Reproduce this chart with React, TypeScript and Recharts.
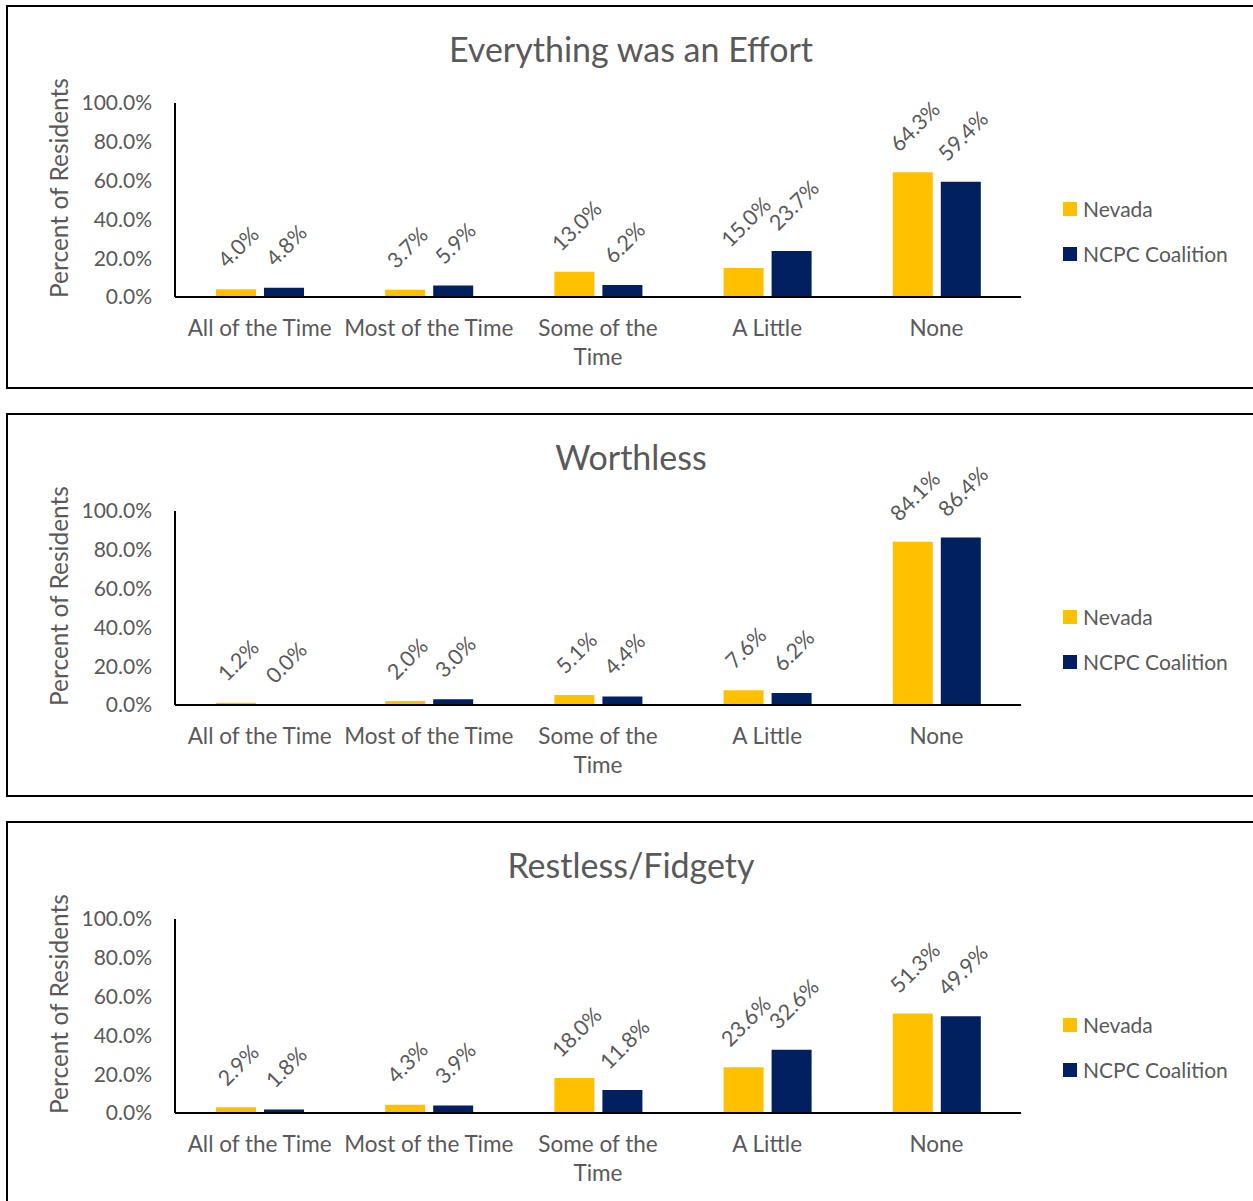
import React from 'react';
import { BarChart, Bar, XAxis, YAxis, Legend, LabelList } from 'recharts';

const categories = ['All of the Time', 'Most of the Time', 'Some of the\nTime', 'A Little', 'None'];
const seriesNames = ['Nevada', 'NCPC Coalition'];
const seriesColors = ['#FFC000', '#002060'];
const yTicks = [0, 20, 40, 60, 80, 100];

const titles = ['Everything was an Effort', 'Worthless', 'Restless/Fidgety'];
const effortNevada = [4.0, 3.7, 13.0, 15.0, 64.3];
const effortNcpc = [4.8, 5.9, 6.2, 23.7, 59.4];
const worthlessNevada = [1.2, 2.0, 5.1, 7.6, 84.1];
const worthlessNcpc = [0.0, 3.0, 4.4, 6.2, 86.4];
const restlessNevada = [2.9, 4.3, 18.0, 23.6, 51.3];
const restlessNcpc = [1.8, 3.9, 11.8, 32.6, 49.9];

const panels = [
  { title: titles[0], nevada: effortNevada, ncpc: effortNcpc },
  { title: titles[1], nevada: worthlessNevada, ncpc: worthlessNcpc },
  { title: titles[2], nevada: restlessNevada, ncpc: restlessNcpc },
];

const FONT = 'Lato, "Open Sans", sans-serif';
const TEXT = '#595959';

const fmt = (v: number) => `${v.toFixed(1)}%`;

function RotatedLabel(props: any) {
  const { x, y, width, height, value } = props;
  const text = fmt(Number(value));
  const w = text.length * 10.2;
  const cx = Number(x) + Number(width) / 2 + 2;
  // top of the bar (height may be negative/tiny for zero values)
  const topY = Math.min(Number(y), Number(y) + Number(height || 0));
  const cy = topY - 21 - (w + 20) / (2 * Math.SQRT2);
  return (
    <text
      x={cx}
      y={cy}
      textAnchor="middle"
      dominantBaseline="central"
      fill={TEXT}
      fontSize={21.5}
      fontFamily={FONT}
      transform={`rotate(-45, ${cx}, ${cy})`}
    >
      {text}
    </text>
  );
}

function CategoryTick(props: any) {
  const { x, y, payload } = props;
  const lines = String(payload.value).split('\n');
  return (
    <text x={x} y={y + 23} textAnchor="middle" fill={TEXT} fontSize={22.5} fontFamily={FONT}>
      {lines.map((line, i) => (
        <tspan key={i} x={x} dy={i === 0 ? '0.35em' : 29}>
          {line}
        </tspan>
      ))}
    </text>
  );
}

function LegendBox() {
  return (
    <div style={{ fontFamily: FONT, fontSize: 21, color: TEXT }}>
      {seriesNames.map((name, i) => (
        <div key={name} style={{ display: 'flex', alignItems: 'center', height: 45 }}>
          <span style={{ width: 14, height: 14, background: seriesColors[i], marginRight: 6, display: 'inline-block' }} />
          <span>{name}</span>
        </div>
      ))}
    </div>
  );
}

function Panel({ title, nevada, ncpc, top }: { title: string; nevada: number[]; ncpc: number[]; top: number }) {
  const data = categories.map((c, i) => ({ category: c, Nevada: nevada[i], NCPC: ncpc[i] }));
  return (
    <div
      style={{
        position: 'absolute',
        left: 6,
        top,
        width: 1300,
        height: 384,
        border: '2px solid #000',
        boxSizing: 'border-box',
        background: '#fff',
      }}
    >
      <BarChart
        width={1245}
        height={378}
        data={data}
        margin={{ top: 96, right: 232, left: 0, bottom: 18 }}
        barSize={40}
        barGap={8}
      >
        <text x={623} y={41} textAnchor="middle" dominantBaseline="central" fill={TEXT} fontSize={34} fontFamily={FONT}>
          {title}
        </text>
        <XAxis
          dataKey="category"
          height={70}
          axisLine={{ stroke: '#000', strokeWidth: 2 }}
          tickLine={false}
          tick={<CategoryTick />}
          interval={0}
        />
        <YAxis
          width={167}
          domain={[0, 100]}
          ticks={yTicks}
          tickFormatter={fmt}
          tickSize={0}
          tickMargin={23}
          axisLine={{ stroke: '#000', strokeWidth: 2 }}
          tickLine={false}
          tick={{ fill: TEXT, fontSize: 21, fontFamily: FONT }}
          label={() => {
            const cx = 50;
            const cy = 181;
            return (
              <text
                x={cx}
                y={cy}
                textAnchor="middle"
                dominantBaseline="central"
                fill={TEXT}
                fontSize={24.5}
                fontFamily={FONT}
                transform={`rotate(-90, ${cx}, ${cy})`}
              >
                Percent of Residents
              </text>
            );
          }}
        />
        <Legend
          layout="horizontal"
          verticalAlign="middle"
          align="center"
          wrapperStyle={{ left: 1055, top: 179, width: 190 }}
          content={() => <LegendBox />}
        />
        <Bar dataKey="Nevada" name={seriesNames[0]} fill={seriesColors[0]} minPointSize={0.1} isAnimationActive={false}>
          <LabelList dataKey="Nevada" content={<RotatedLabel />} />
        </Bar>
        <Bar dataKey="NCPC" name={seriesNames[1]} fill={seriesColors[1]} minPointSize={0.1} isAnimationActive={false}>
          <LabelList dataKey="NCPC" content={<RotatedLabel />} />
        </Bar>
      </BarChart>
    </div>
  );
}

export default function App() {
  return (
    <div style={{ position: 'absolute', left: 0, top: 0, width: 1253, height: 1201, overflow: 'hidden', background: '#fff' }}>
      {panels.map((p, i) => (
        <Panel key={p.title} title={p.title} nevada={p.nevada} ncpc={p.ncpc} top={5 + 408 * i} />
      ))}
    </div>
  );
}
